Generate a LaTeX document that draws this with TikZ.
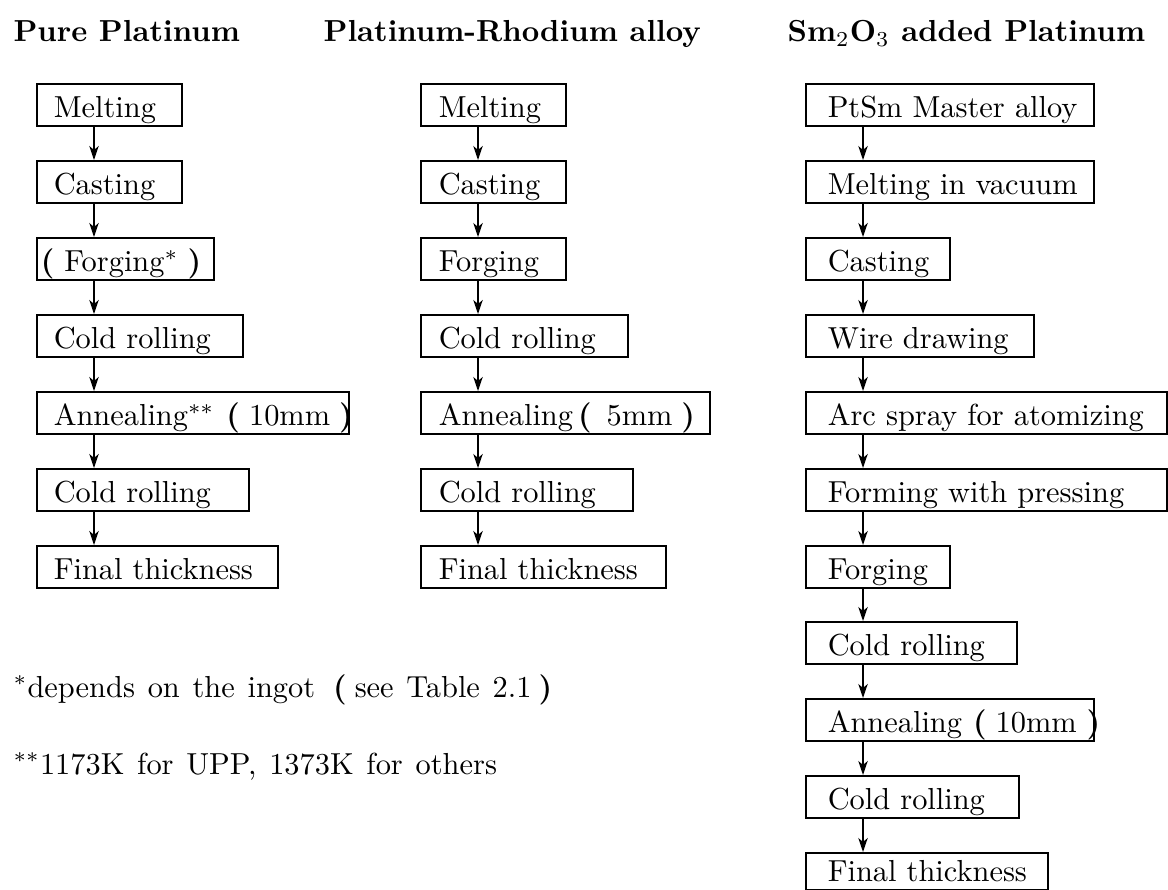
\documentclass[tikz,border=0pt]{standalone}
\usetikzlibrary{arrows.meta}
\newdimen\pxu \pxu=0.329pt
\newcommand\mybox[3]{\makebox[#1\pxu][l]{\hspace{#2\pxu}#3}}
\newcommand\lp{\textbf{(}}
\newcommand\rp{\textbf{)}}
\newcommand\widesp{\spaceskip=4.2pt plus 1pt\relax\xspaceskip=4.8pt plus 1pt\relax}
\begin{document}
\begin{tikzpicture}[x=0.329pt,y=-0.329pt,
  every node/.style={font=\normalsize},
  stepbox/.style={draw, line width=0.5pt, anchor=north west, inner xsep=0pt, inner ysep=0pt, text height=11.19pt, text depth=2.63pt},
  head/.style={anchor=base west, inner sep=0pt, font=\normalsize\bfseries},
  note/.style={anchor=base west, inner sep=0pt},
  arr/.style={line width=0.5pt, -{Stealth[length=4.6pt,width=3.1pt,inset=1.3pt]}}]
\useasboundingbox (0,0) rectangle (1168,890);

% headers
\node[head] (h1) at (13,42) {Pure Platinum};
\node[head] (h2) at (323,42) {Platinum-Rhodium alloy};
\node[head] (h3) at (787,42) {Sm$_2$O$_3$ added Platinum};

% column 1
\node[stepbox] (a1) at (36,83)  {\mybox{145}{17}{Melting}};
\node[stepbox] (a2) at (36,160) {\mybox{145}{17}{Casting}};
\node[stepbox] (a3) at (36,237) {\mybox{177}{4}{\lp\hspace{10\pxu}Forging$^*$\hspace{9\pxu}\rp}};
\node[stepbox] (a4) at (36,314) {\mybox{206}{17}{Cold rolling}};
\node[stepbox] (a5) at (36,391) {\mybox{312}{17}{Annealing$^{**}$\hspace{12\pxu}\lp\hspace{9\pxu}10mm\hspace{9\pxu}\rp}};
\node[stepbox] (a6) at (36,468) {\mybox{212}{17}{Cold rolling}};
\node[stepbox] (a7) at (36,545) {\mybox{241}{17}{Final thickness}};

% column 2
\node[stepbox] (b1) at (420,83)  {\mybox{145}{18}{Melting}};
\node[stepbox] (b2) at (420,160) {\mybox{145}{18}{Casting}};
\node[stepbox] (b3) at (420,237) {\mybox{145}{18}{Forging}};
\node[stepbox] (b4) at (420,314) {\mybox{207}{18}{Cold rolling}};
\node[stepbox] (b5) at (420,391) {\mybox{289}{18}{Annealing\hspace{5\pxu}\lp\hspace{15\pxu}5mm\hspace{9\pxu}\rp}};
\node[stepbox] (b6) at (420,468) {\mybox{212}{18}{Cold rolling}};
\node[stepbox] (b7) at (420,545) {\mybox{245}{18}{Final thickness}};

% column 3
\node[stepbox] (c1) at (805,83)  {\mybox{288}{22}{PtSm Master alloy}};
\node[stepbox] (c2) at (805,160) {\mybox{288}{22}{Melting in vacuum}};
\node[stepbox] (c3) at (805,237) {\mybox{144}{22}{Casting}};
\node[stepbox] (c4) at (805,314) {\mybox{228}{22}{Wire drawing}};
\node[stepbox] (c5) at (805,391) {\mybox{361}{22}{Arc spray for atomizing}};
\node[stepbox] (c6) at (805,468) {\mybox{361}{22}{Forming with pressing}};
\node[stepbox] (c7) at (805,545) {\mybox{144}{22}{Forging}};
\node[stepbox] (c8) at (805,621) {\mybox{211}{22}{Cold rolling}};
\node[stepbox] (c9) at (805,698) {\mybox{288}{22}{Annealing\hspace{11\pxu}\lp\hspace{9\pxu}10mm\hspace{10\pxu}\rp}};
\node[stepbox] (c10) at (805,775) {\mybox{213}{22}{Cold rolling}};
\node[stepbox, text height=9.54pt] (c11) at (805,852) {\mybox{242}{22}{Final thickness}};

% arrows
\foreach \u/\v in {a1/a2,a2/a3,a3/a4,a4/a5,a5/a6,a6/a7,
                   b1/b2,b2/b3,b3/b4,b4/b5,b5/b6,b6/b7,
                   c1/c2,c2/c3,c3/c4,c4/c5,c5/c6,c6/c7,c7/c8,c8/c9,c9/c10,c10/c11}
  \draw[arr] ([xshift=58\pxu]\u.south west) -- ([xshift=58\pxu]\v.north west);

% footnotes
\node[note] (n1) at (13,697) {\widesp$^*$depends on the ingot\hspace{18\pxu}\lp\hspace{8\pxu}see Table 2.1\hspace{7\pxu}\rp};
\node[note] (n2) at (13,774) {\widesp$^{**}$1173K for UPP, 1373K for others};
\end{tikzpicture}
\end{document}
